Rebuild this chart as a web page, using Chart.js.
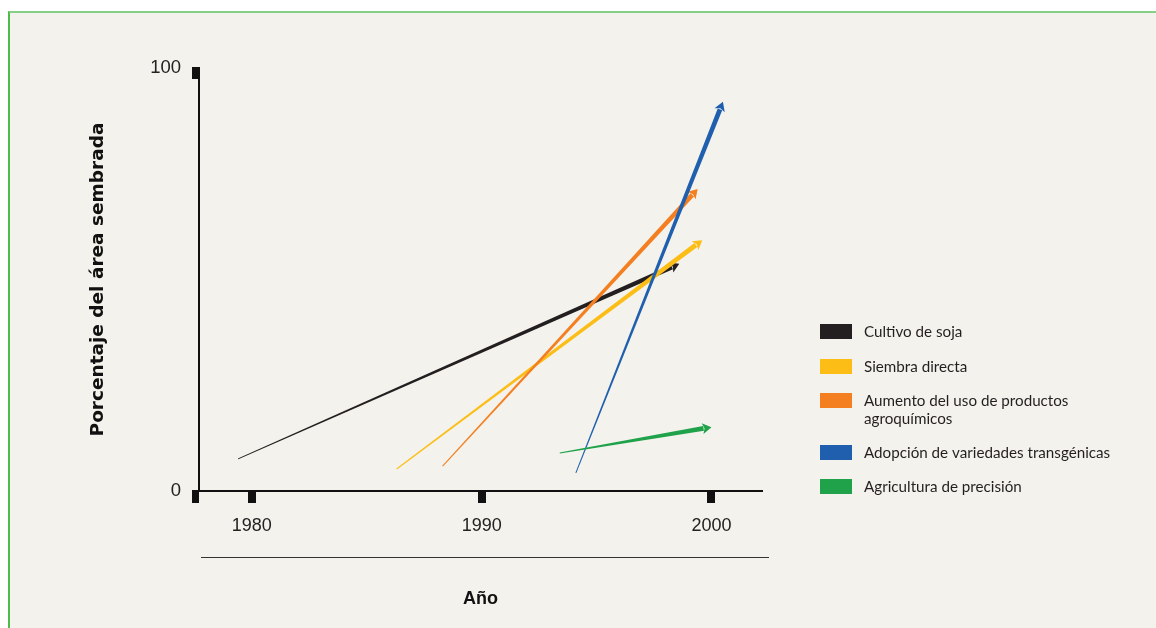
<!DOCTYPE html>
<html>
<head>
<meta charset="utf-8">
<script src="https://cdn.jsdelivr.net/npm/chart.js@4"></script>
<style>
  body { margin: 0; background: #ffffff; }
  #frame {
    position: absolute; left: 8px; top: 11px; width: 1160px; height: 640px;
    background: #f3f2ec; border-top: 2px solid #86cf86; border-left: 2px solid #4cbc4c;
  }
  #chart { position: absolute; left: 0; top: 0; }
</style>
</head>
<body>
<div id="frame"></div>
<canvas id="chart" width="1156" height="628"></canvas>
<script>
// series: each trend is an arrow from a start point to an end point
const seriesNames = [
  "Cultivo de soja",
  "Siembra directa",
  ["Aumento del uso de productos", "agroquímicos"],
  "Adopción de variedades transgénicas",
  "Agricultura de precisión"
];
const startYear = [1979.4, 1986.3, 1988.3, 1994.1, 1993.4];
const startValue = [7.6, 5.2, 5.9, 4.3, 9.0];
const endYear = [1998.6, 1999.6, 1999.4, 2000.5, 2000.0];
const endValue = [53.7, 59.3, 71.4, 92.0, 15.1];
const seriesColors = ["#231f20", "#fcbd16", "#f47f21", "#1f5fae", "#1fa24a"];

const xTicks = [1980, 1990, 2000];
const yTicks = [0, 100];

let datasets = [];
let i = 0;
while (i < seriesNames.length) {
  datasets.push({
    label: Array.isArray(seriesNames[i]) ? seriesNames[i].join(" ") : seriesNames[i],
    data: [
      { x: startYear[i], y: startValue[i] },
      { x: endYear[i], y: endValue[i] }
    ],
    borderColor: seriesColors[i],
    backgroundColor: seriesColors[i],
    showLine: false,
    pointRadius: 0
  });
  i++;
}

/* tapered arrows, thin at the start and thick at the head */
const arrowPlugin = {
  id: "arrows",
  afterDatasetsDraw(chart) {
    const ctx = chart.ctx;
    chart.data.datasets.forEach(function (ds, idx) {
      const pts = chart.getDatasetMeta(idx).data;
      const x0 = pts[0].x, y0 = pts[0].y, x1 = pts[1].x, y1 = pts[1].y;
      const len = Math.hypot(x1 - x0, y1 - y0);
      const ux = (x1 - x0) / len, uy = (y1 - y0) / len;
      const nx = -uy, ny = ux;
      const headLen = 9, headW = 5.5;
      const w0 = 0.5, w1 = 2.4;
      const bx = x1 - ux * headLen, by = y1 - uy * headLen;
      ctx.save();
      ctx.fillStyle = ds.borderColor;
      ctx.beginPath();
      ctx.moveTo(x0 + nx * w0, y0 + ny * w0);
      ctx.lineTo(bx + ux + nx * w1, by + uy + ny * w1);
      ctx.lineTo(bx + ux - nx * w1, by + uy - ny * w1);
      ctx.lineTo(x0 - nx * w0, y0 - ny * w0);
      ctx.closePath();
      ctx.fill();
      ctx.beginPath();
      ctx.moveTo(x1, y1);
      ctx.lineTo(bx + nx * headW, by + ny * headW);
      ctx.lineTo(bx + ux * 2, by + uy * 2);
      ctx.lineTo(bx - nx * headW, by - ny * headW);
      ctx.closePath();
      ctx.fill();
      ctx.restore();
    });
  }
};

/* square tick marks, lower rule and legend */
const decorPlugin = {
  id: "decor",
  afterDraw(chart) {
    const ctx = chart.ctx;
    const xs = chart.scales.x, ys = chart.scales.y;
    const area = chart.chartArea;
    ctx.save();
    ctx.fillStyle = "#111111";
    xTicks.forEach(function (t) {
      const px = Math.round(xs.getPixelForValue(t));
      ctx.fillRect(px - 4, area.bottom, 8, 12);
    });
    ctx.fillRect(area.left - 7, ys.getPixelForValue(100) - 1, 8, 12);
    ctx.fillRect(area.left - 7, ys.getPixelForValue(0) - 1, 7, 13);

    ctx.strokeStyle = "#333333";
    ctx.lineWidth = 1;
    ctx.beginPath();
    ctx.moveTo(area.left + 2, 557.5);
    ctx.lineTo(area.right + 7, 557.5);
    ctx.stroke();

    // legend
    const rowTop = [324, 359, 393, 445, 479];
    ctx.font = "15.2px Lato";
    ctx.textBaseline = "middle";
    ctx.fillStyle = "#231f20";
    seriesNames.forEach(function (name, k) {
      ctx.fillStyle = seriesColors[k];
      ctx.fillRect(820, rowTop[k], 32, 15);
      ctx.fillStyle = "#231f20";
      const lines = Array.isArray(name) ? name : [name];
      lines.forEach(function (ln, j) {
        ctx.fillText(ln, 864, rowTop[k] + 8 + j * 18);
      });
    });
    ctx.restore();
  }
};

new Chart(document.getElementById("chart"), {
  type: "scatter",
  data: { datasets: datasets },
  options: {
    responsive: false,
    devicePixelRatio: 1,
    animation: false,
    layout: { padding: { top: 68, right: 394, bottom: 0, left: 0 } },
    plugins: { legend: { display: false }, tooltip: { enabled: false } },
    scales: {
      x: {
        type: "linear",
        min: 1977.7,
        max: 2002.2,
        afterBuildTicks: function (scale) {
          scale.ticks = xTicks.map(function (v) { return { value: v }; });
        },
        afterFit: function (scale) { scale.height = 137; },
        grid: { display: false, drawTicks: false },
        border: { display: true, color: "#111111", width: 2 },
        ticks: {
          padding: 24,
          color: "#222222",
          font: { family: "Liberation Sans", size: 18 },
          callback: function (v) { return String(v); }
        },
        title: {
          display: true,
          text: "Año",
          color: "#111111",
          font: { family: "Liberation Sans", size: 18, weight: "bold" },
          padding: { top: 0, bottom: 18 }
        }
      },
      y: {
        type: "linear",
        min: 0,
        max: 100,
        afterBuildTicks: function (scale) {
          scale.ticks = yTicks.map(function (v) { return { value: v }; });
        },
        afterFit: function (scale) { scale.width = 199; },
        grid: { display: false, drawTicks: false },
        border: { display: true, color: "#111111", width: 2 },
        ticks: {
          padding: 18,
          color: "#222222",
          font: { family: "Liberation Sans", size: 18.5 }
        },
        title: {
          display: true,
          text: "Porcentaje del área sembrada",
          color: "#111111",
          font: { family: "DejaVu Sans", size: 18.5, weight: "bold" },
          padding: { top: 87, bottom: 0 }
        }
      }
    }
  },
  plugins: [arrowPlugin, decorPlugin]
});
</script>
</body>
</html>
